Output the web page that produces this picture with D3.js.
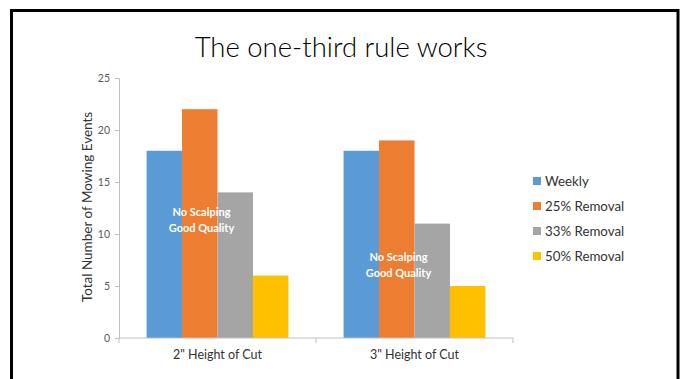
<!DOCTYPE html>
<html>
<head>
<meta charset="utf-8">
<script src="https://cdn.jsdelivr.net/npm/d3@7"></script>
<style>
  body { margin: 0; background: #fff; }
  svg { display: block; font-family: Lato, "Open Sans", sans-serif; }
</style>
</head>
<body>
<svg id="chart"></svg>
<script>
const categories = ['2" Height of Cut', '3" Height of Cut'];
const seriesNames = ["Weekly", "25% Removal", "33% Removal", "50% Removal"];
const seriesColors = ["#5b9bd5", "#ed7d31", "#a5a5a5", "#ffc000"];
const weekly = [18, 18];
const removal25 = [22, 19];
const removal33 = [14, 11];
const removal50 = [6, 5];
const yTicks = [0, 5, 10, 15, 20, 25];
const noteLines = ["No Scalping", "Good Quality"];
const noteLevels = [12.1, 7.8];

const width = 683;
const height = 379;

const svg = d3.select("#chart")
    .attr("width", width)
    .attr("height", height);

// slide frame
svg.append("path")
    .attr("d", "M11.5,400 L11.5,10.5 L678,10.5 L678,400")
    .attr("fill", "none")
    .attr("stroke", "#000")
    .attr("stroke-width", 3);

svg.append("text")
    .attr("x", 341)
    .attr("y", 57)
    .attr("text-anchor", "middle")
    .style("font-size", "27.5px")
    .style("font-weight", "300")
    .attr("fill", "#000")
    .text("The one-third rule works");

const xScale = d3.scaleBand()
    .domain(categories)
    .range([119, 513]);

const bw = xScale.bandwidth();
const xInner = d3.scaleBand()
    .domain(seriesNames)
    .range([bw * 0.14, bw * 0.86]);

const yScale = d3.scaleLinear()
    .domain([0, 25])
    .range([338, 78]);

const allSeries = [weekly, removal25, removal33, removal50];
const rows = [];
categories.forEach(function(c, i) {
    seriesNames.forEach(function(s, j) {
        rows.push({ cat: c, series: s, value: allSeries[j][i], color: seriesColors[j] });
    });
});

svg.selectAll("rect.bar")
    .data(rows)
    .enter()
    .append("rect")
    .attr("class", "bar")
    .attr("x", function(d) { return xScale(d.cat) + xInner(d.series); })
    .attr("y", function(d) { return yScale(d.value); })
    .attr("width", xInner.bandwidth())
    .attr("height", function(d) { return yScale(0) - yScale(d.value); })
    .attr("fill", function(d) { return d.color; });

// y axis
const yAxis = svg.append("g")
    .attr("transform", "translate(119,0)")
    .call(d3.axisLeft(yScale).tickValues(yTicks).tickSize(4).tickPadding(5));
yAxis.selectAll("path, line").attr("stroke", "#bfbfbf");
yAxis.selectAll("text")
    .style("font-size", "10.5px")
    .style("font-family", "Lato, sans-serif")
    .attr("fill", "#595959");

// x axis
const xAxis = svg.append("g")
    .attr("transform", "translate(0,338)")
    .call(d3.axisBottom(xScale).tickSize(0).tickPadding(12));
xAxis.select("path").attr("stroke", "#bfbfbf").attr("d", "M119,0H513");
xAxis.selectAll("text")
    .style("font-size", "12.5px")
    .style("font-family", "Lato, sans-serif")
    .attr("fill", "#333");
const bounds = [119].concat(categories.map(function(c) { return xScale(c) + bw; }));
xAxis.selectAll("line.bound")
    .data(bounds)
    .enter()
    .append("line")
    .attr("class", "bound")
    .attr("x1", function(d) { return d; })
    .attr("x2", function(d) { return d; })
    .attr("y1", 0)
    .attr("y2", 5)
    .attr("stroke", "#bfbfbf");

svg.append("text")
    .attr("transform", "translate(92," + (yScale(12.5) - 1) + ") rotate(-90)")
    .attr("text-anchor", "middle")
    .style("font-size", "13.5px")
    .attr("fill", "#333")
    .text("Total Number of Mowing Events");

// annotations
categories.forEach(function(c, i) {
    noteLines.forEach(function(line, k) {
        svg.append("text")
            .attr("x", xScale(c) + bw / 2 - 16)
            .attr("y", yScale(noteLevels[i]) + 4 + k * 16)
            .attr("text-anchor", "middle")
            .style("font-size", "11px")
            .style("font-weight", "bold")
            .attr("fill", "#fff")
            .text(line);
    });
});

// legend
const legend = svg.append("g")
    .attr("transform", "translate(533,181)");
seriesNames.forEach(function(s, j) {
    legend.append("rect")
        .attr("x", 0)
        .attr("y", j * 25 - 4)
        .attr("width", 8)
        .attr("height", 8)
        .attr("fill", seriesColors[j]);
    legend.append("text")
        .attr("x", 12)
        .attr("y", j * 25 + 5)
        .style("font-size", "13.3px")
        .attr("fill", "#333")
        .text(s);
});
</script>
</body>
</html>
